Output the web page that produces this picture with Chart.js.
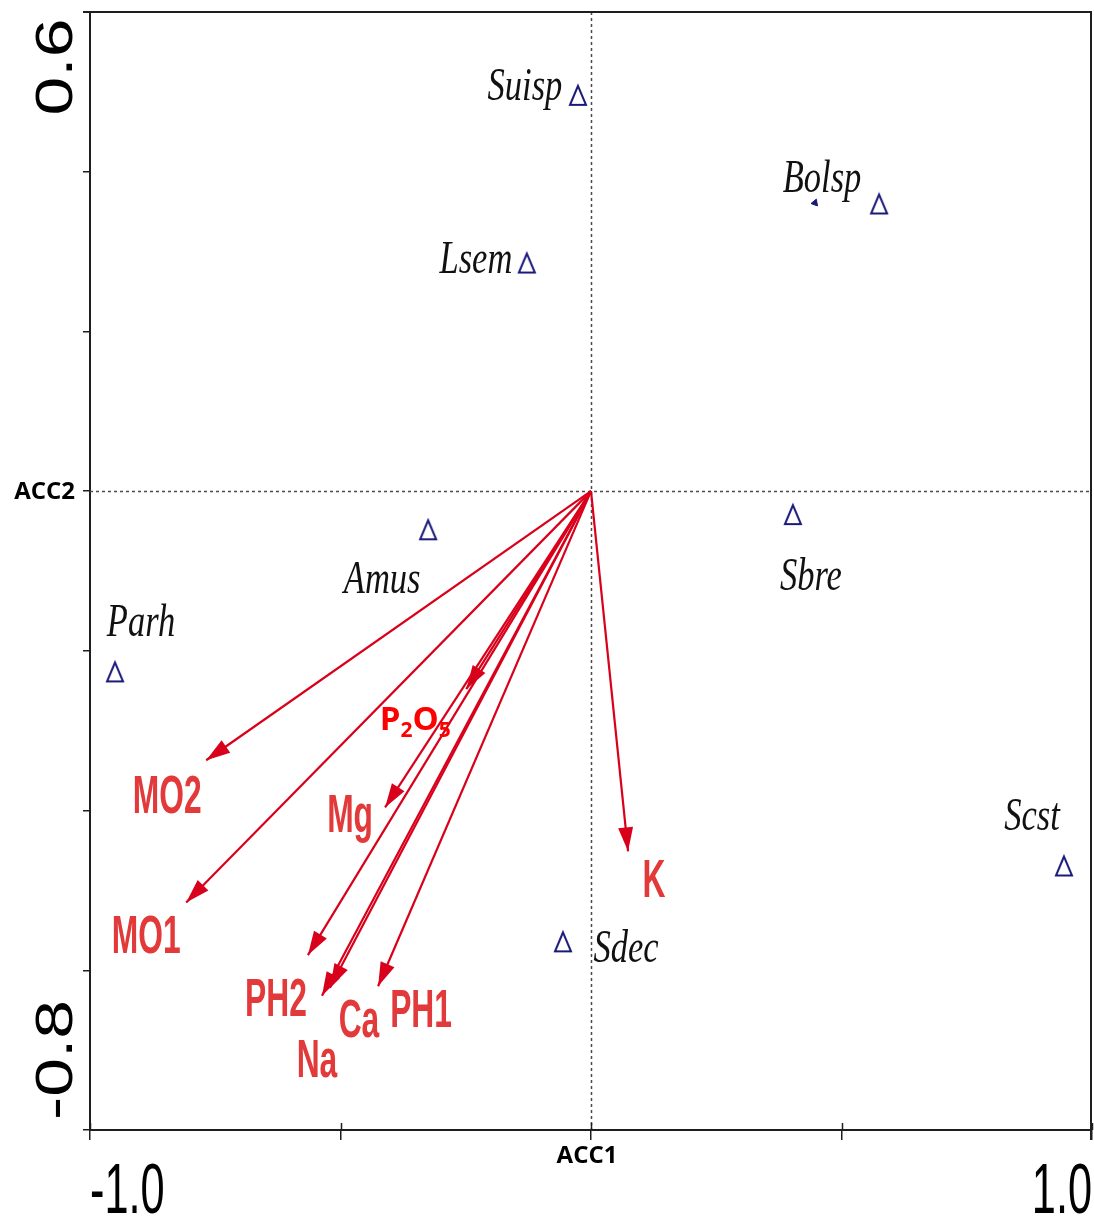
<!DOCTYPE html>
<html><head><meta charset="utf-8">
<script src="https://cdn.jsdelivr.net/npm/chart.js@4.4.1/dist/chart.umd.min.js"></script>
<style>html,body{margin:0;padding:0;background:#fff;} canvas{display:block;}</style>
</head><body>
<canvas id="c" width="1094" height="1217"></canvas>
<script>
// ---- data ----
const speciesNames = ['Suisp','Bolsp','Lsem','Amus','Sbre','Parh','Scst','Sdec'];
const speciesX = [-0.026, 0.575, -0.128, -0.325, 0.403, -0.950, 0.944, -0.056];
const speciesY = [0.495, 0.359, 0.285, -0.049, -0.030, -0.227, -0.470, -0.565];
const markX = [0.447];
const markY = [0.361];
const envNames = ['MO2','MO1','P2O5','Mg','PH2','Na','Ca','PH1','K'];
const envX = [-0.768, -0.808, -0.249, -0.411, -0.565, -0.537, -0.521, -0.425, 0.074];
const envY = [-0.337, -0.515, -0.248, -0.396, -0.581, -0.632, -0.622, -0.620, -0.451];
const xTickValues = [-1.0, 1.0];
const xTickLabels = ['-1.0', '1.0'];
const yTickValues = [0.6, -0.8];
const yTickLabels = ['0.6', '-0.8'];
const xAxisTitle = 'ACC1';
const yAxisTitle = 'ACC2';

// ---- layout (pixel offsets of labels from their marks) ----
const speciesLabelOffsets = [[-53,4],[-57,-12],[-51,9],[-46,63],[18,75],[26,-36],[-32,-36],[63,20]];
const envLabelOffsets = [[-39,53],[-40,51],[-51,41],[-35,25],[-32,61],[-5,81],[29,49],[43,41],[26,46]];
const envFormula = [false,false,true,false,false,false,false,false,false];

const ARROW = '#d9001b';
const LABEL_RED = '#e23a3a';
const NAVY = '#1a1a7a';
const AXIS = '#1e1e1e';

function makeTri(){
  const c = document.createElement('canvas'); c.width = 22; c.height = 26;
  const g = c.getContext('2d');
  g.strokeStyle = NAVY; g.lineWidth = 2; g.lineJoin = 'miter';
  g.beginPath(); g.moveTo(11,3); g.lineTo(3,22); g.lineTo(19,22); g.closePath(); g.stroke();
  return c;
}
const tri = makeTri();

const datasets = [];
envNames.forEach((n,i)=>{
  datasets.push({label:n, type:'scatter', showLine:true, data:[{x:0,y:0},{x:envX[i],y:envY[i]}],
    borderColor:ARROW, borderWidth:2.2, pointRadius:0, fill:false});
});
datasets.push({label:'species', type:'scatter', data:speciesX.map((v,i)=>({x:v,y:speciesY[i]})),
  pointStyle:tri, pointRadius:10, showLine:false});
datasets.push({label:'mark', type:'scatter', data:markX.map((v,i)=>({x:v,y:markY[i]})),
  pointStyle:'triangle', rotation:140, pointRadius:4, backgroundColor:NAVY, borderColor:NAVY, borderWidth:1, showLine:false});

const overlay = {
  id:'overlay',
  beforeDatasetsDraw(chart){
    const {ctx, chartArea:a, scales:{x,y}} = chart;
    ctx.save();
    const x0 = Math.round(x.getPixelForValue(0))+0.5, y0 = Math.round(y.getPixelForValue(0))+0.5;
    ctx.strokeStyle = '#4a4a4a'; ctx.lineWidth = 1.5; ctx.setLineDash([3,3]);
    ctx.beginPath(); ctx.moveTo(x0,a.top); ctx.lineTo(x0,a.bottom); ctx.moveTo(a.left,y0); ctx.lineTo(a.right,y0); ctx.stroke();
    ctx.setLineDash([]);
    ctx.strokeStyle = AXIS; ctx.lineWidth = 2;
    ctx.beginPath(); ctx.moveTo(a.left-7, a.top); ctx.lineTo(a.right-1, a.top); ctx.lineTo(a.right-1, a.bottom+10); ctx.stroke();
    ctx.lineWidth = 1.5;
    ctx.beginPath();
    x.ticks.forEach(t=>{const px = Math.round(x.getPixelForValue(t.value))+0.5; ctx.moveTo(px, a.bottom); ctx.lineTo(px, a.bottom-7);});
    ctx.stroke();
    ctx.restore();
  },
  afterDatasetsDraw(chart){
    const {ctx, scales:{x,y}} = chart;
    const ox = x.getPixelForValue(0), oy = y.getPixelForValue(0);
    ctx.save();
    // arrowheads
    envNames.forEach((n,i)=>{
      const tx = x.getPixelForValue(envX[i]), ty = y.getPixelForValue(envY[i]);
      const ang = Math.atan2(ty-oy, tx-ox), L = 24, W = 7.5;
      const bx = tx - L*Math.cos(ang), by = ty - L*Math.sin(ang);
      ctx.fillStyle = ARROW;
      ctx.beginPath(); ctx.moveTo(tx,ty);
      ctx.lineTo(bx - W*Math.sin(ang), by + W*Math.cos(ang));
      ctx.lineTo(bx + W*Math.sin(ang), by - W*Math.cos(ang));
      ctx.closePath(); ctx.fill();
    });
    // env labels
    envNames.forEach((n,i)=>{
      const tx = x.getPixelForValue(envX[i]) + envLabelOffsets[i][0];
      const ty = y.getPixelForValue(envY[i]) + envLabelOffsets[i][1];
      if (envFormula[i]) {
        const parts = n.split('').map(c=>[c, /\d/.test(c)]);
        const big = 'bold 33px "Open Sans", sans-serif', small = 'bold 21px "Open Sans", sans-serif';
        let total = 0;
        parts.forEach(p=>{ctx.font = p[1]?small:big; total += ctx.measureText(p[0]).width;});
        let cx = tx - total/2;
        ctx.fillStyle = '#ff0000'; ctx.textAlign = 'left'; ctx.textBaseline = 'alphabetic';
        parts.forEach(p=>{ctx.font = p[1]?small:big; ctx.fillText(p[0], cx, ty + (p[1]?7:0)); cx += ctx.measureText(p[0]).width;});
      } else {
        ctx.save();
        ctx.translate(tx, ty); ctx.scale(0.6, 1);
        ctx.font = 'bold 53px "Liberation Sans", Arial, sans-serif';
        ctx.fillStyle = LABEL_RED; ctx.textAlign = 'center'; ctx.textBaseline = 'alphabetic';
        ctx.fillText(n, 0, 0);
        ctx.restore();
      }
    });
    // species labels
    speciesNames.forEach((n,i)=>{
      const tx = x.getPixelForValue(speciesX[i]) + speciesLabelOffsets[i][0];
      const ty = y.getPixelForValue(speciesY[i]) + speciesLabelOffsets[i][1];
      ctx.save();
      ctx.translate(tx, ty); ctx.scale(0.75, 1);
      ctx.font = 'italic 46px "Liberation Serif", "Times New Roman", serif';
      ctx.fillStyle = '#111'; ctx.textAlign = 'center'; ctx.textBaseline = 'alphabetic';
      ctx.fillText(n, 0, 0);
      ctx.restore();
    });
    ctx.restore();
  },
  afterDraw(chart){
    const {ctx, chartArea:a, scales:{x,y}} = chart;
    ctx.save();
    ctx.fillStyle = '#000';
    // x tick labels
    xTickValues.forEach((v,i)=>{
      const px = x.getPixelForValue(v);
      ctx.save(); ctx.translate(px, a.bottom + 83); ctx.scale(0.61, 1);
      ctx.font = '71px "Liberation Sans", Arial, sans-serif';
      ctx.textAlign = v === x.min ? 'left' : (v === x.max ? 'right' : 'center');
      ctx.textBaseline = 'alphabetic';
      ctx.fillText(xTickLabels[i], 0, 0);
      ctx.restore();
    });
    // y tick labels (rotated)
    yTickValues.forEach((v,i)=>{
      const py = y.getPixelForValue(v) + (v === y.max ? 55 : (v === y.min ? -70 : 0));
      ctx.save(); ctx.translate(a.left - 18, py); ctx.rotate(-Math.PI/2); ctx.scale(1.34, 1);
      ctx.font = '52px "Liberation Sans", Arial, sans-serif';
      ctx.textAlign = 'center'; ctx.textBaseline = 'alphabetic';
      ctx.fillText(yTickLabels[i], 0, 0);
      ctx.restore();
    });
    // axis titles
    ctx.font = 'bold 24px "Open Sans", sans-serif';
    ctx.textBaseline = 'middle';
    ctx.textAlign = 'center';
    ctx.fillText(xAxisTitle, x.getPixelForValue(0) - 4, a.bottom + 26);
    ctx.textAlign = 'right';
    ctx.fillText(yAxisTitle, a.left - 15, y.getPixelForValue(0) + 1);
    ctx.restore();
  }
};

new Chart(document.getElementById('c'), {
  type:'scatter',
  data:{datasets},
  options:{
    responsive:false, animation:false, events:[],
    layout:{autoPadding:false, padding:{top:12, right:2, left:0, bottom:0}},
    plugins:{legend:{display:false}, tooltip:{enabled:false}},
    scales:{
      x:{type:'linear', min:-1, max:1,
        ticks:{display:false, stepSize:0.5},
        grid:{display:true, drawOnChartArea:false, drawTicks:true, tickLength:10, color:AXIS, lineWidth:1.5},
        border:{display:true, color:AXIS, width:2},
        afterFit(s){ s.height = 87; }},
      y:{type:'linear', min:-0.8, max:0.6,
        ticks:{display:false, stepSize:0.2},
        grid:{display:true, drawOnChartArea:false, drawTicks:true, tickLength:7, color:AXIS, lineWidth:1.5},
        border:{display:true, color:AXIS, width:2},
        afterFit(s){ s.width = 90; }}
    }
  },
  plugins:[overlay]
});
</script>
</body></html>
